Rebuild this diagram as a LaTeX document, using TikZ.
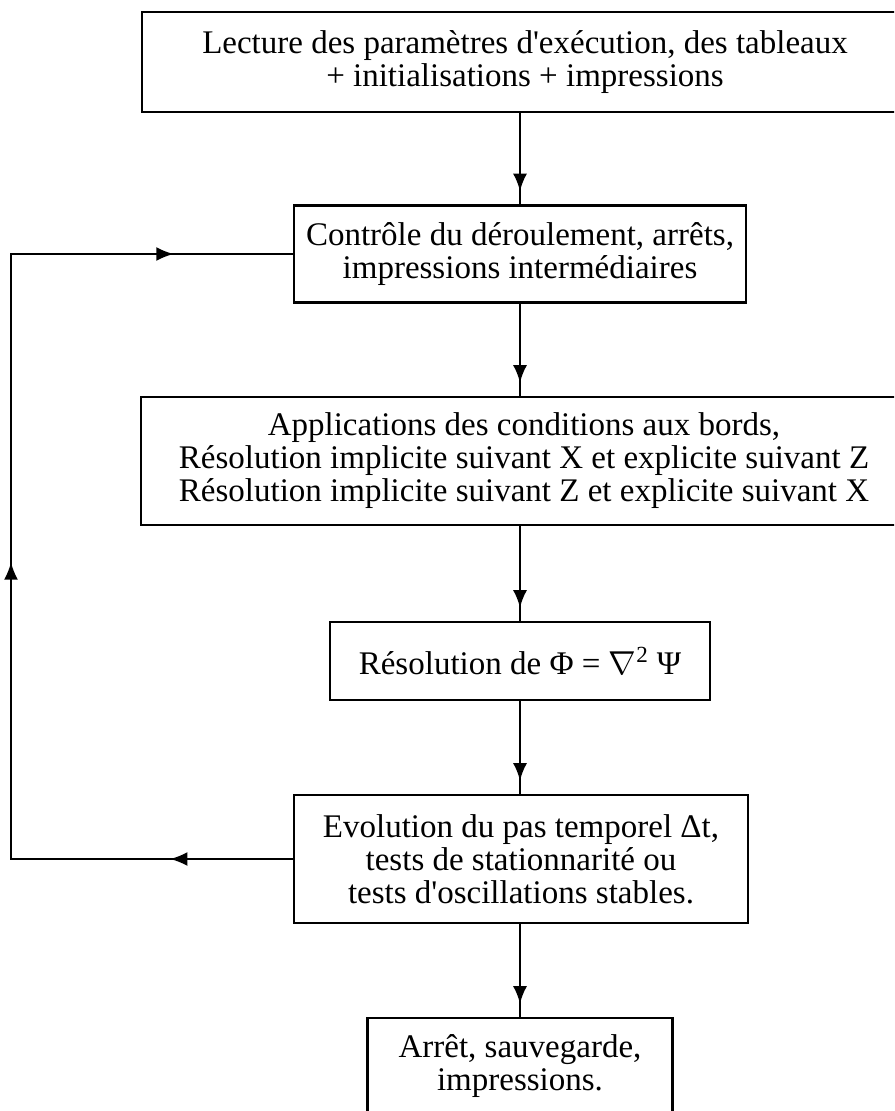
\documentclass[tikz,border=0pt]{standalone}
\usepackage{fontspec}
\setmainfont{Liberation Serif}
\usetikzlibrary{arrows.meta,decorations.markings}
\newcommand{\ap}{\textquotesingle}

\begin{document}
\begin{tikzpicture}[x=0.75pt,y=0.75pt,yscale=-1,xscale=1,
  >={Latex[length=13pt,width=10.5pt]},
  box/.style={draw, line width=1.8pt, inner sep=0pt, align=center,
    font=\fontsize{24.75}{24.75}\selectfont},
  flow/.style={line width=1.4pt, postaction={decorate},
    decoration={markings, mark=at position -10pt with {\arrow{>}}}},
  back/.style={line width=1.4pt, postaction={decorate},
    decoration={markings,
      mark=at position 0.105 with {\arrow{>}},
      mark=at position 0.495 with {\arrow{>}},
      mark=at position 0.898 with {\arrow{>}}}},
]
%set diagram size 894 x 1111, wide boxes run past the right edge
\useasboundingbox (0,0) rectangle (894,1111);
\clip (0,0) rectangle (894,1111);

% Text Node
\node (lect) at (525,62) [box, minimum width=574.5pt, minimum height=75pt]
  {Lecture des paramètres d\ap exécution, des tableaux\\ + initialisations + impressions};
% Text Node
\node (ctrl) at (520,254) [box, minimum width=339pt, minimum height=72.75pt]
  {Contrôle du déroulement, arrêts,\\ impressions intermédiaires};
% Text Node
\node (cond) at (524,461) [box, minimum width=574.5pt, minimum height=96pt]
  {Applications des conditions aux bords,\\ Résolution implicite suivant X et explicite suivant Z\\ Résolution implicite suivant Z et explicite suivant X};
% Text Node
\node (phi) at (520,661) [box, minimum width=285pt, minimum height=58.5pt]
  {Résolution de Φ = $\nabla$\textsuperscript{2} Ψ};
% Text Node
\node (evol) at (521,859) [box, minimum width=340.5pt, minimum height=96pt]
  {Evolution du pas temporel Δt,\\ tests de stationnarité ou\\ tests d\ap oscillations stables.};
% Text Node
\node (stop) at (520,1066) [box, minimum width=228.75pt, minimum height=72pt]
  {Arrêt, sauvegarde,\\ impressions.};

%Straight Lines
\draw [flow] (ctrl.north |- lect.south) -- (ctrl.north);
\draw [flow] (ctrl.south) -- (ctrl.south |- cond.north);
\draw [flow] (phi.north |- cond.south) -- (phi.north);
\draw [flow] (phi.south) -- (phi.south |- evol.north);
\draw [flow] (stop.north |- evol.south) -- (stop.north);

%Feedback loop on the left
\coordinate (lb) at (11,859);
\coordinate (lt) at (11,254);
\draw [back] (evol.west) -- (lb) -- (lt) -- (ctrl.west);

\end{tikzpicture}
\end{document}
